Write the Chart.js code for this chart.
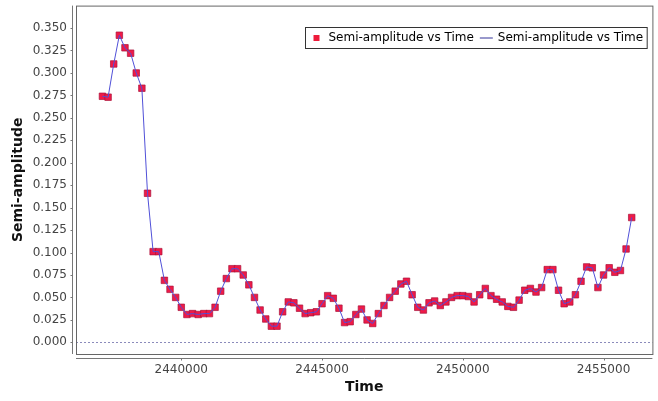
<!DOCTYPE html>
<html>
<head>
<meta charset="utf-8">
<script src="https://cdn.jsdelivr.net/npm/chart.js@4.4.1/dist/chart.umd.min.js"></script>
<style>
  body { margin: 0; background: #fff; }
  #c { display: block; }
</style>
</head>
<body>
<canvas id="c" width="658" height="401"></canvas>
<script>
// Julian date of each observation
var times = [
  2437200, 2437400, 2437600, 2437800, 2438000, 2438200, 2438400, 2438600, 2438800, 2439000,
  2439200, 2439400, 2439600, 2439800, 2440000, 2440200, 2440400, 2440600, 2440800, 2441000,
  2441200, 2441400, 2441600, 2441800, 2442000, 2442200, 2442400, 2442600, 2442800, 2443000,
  2443200, 2443400, 2443600, 2443800, 2444000, 2444200, 2444400, 2444600, 2444800, 2445000,
  2445200, 2445400, 2445600, 2445800, 2446000, 2446200, 2446400, 2446600, 2446800, 2447000,
  2447200, 2447400, 2447600, 2447800, 2448000, 2448200, 2448400, 2448600, 2448800, 2449000,
  2449200, 2449400, 2449600, 2449800, 2450000, 2450200, 2450400, 2450600, 2450800, 2451000,
  2451200, 2451400, 2451600, 2451800, 2452000, 2452200, 2452400, 2452600, 2452800, 2453000,
  2453200, 2453400, 2453600, 2453800, 2454000, 2454200, 2454400, 2454600, 2454800, 2455000,
  2455200, 2455400, 2455600, 2455800, 2456000
];
var semiAmplitude = [
  0.274, 0.273, 0.310, 0.342, 0.328, 0.322, 0.300, 0.283, 0.166, 0.101,
  0.101, 0.069, 0.059, 0.050, 0.039, 0.031, 0.032, 0.031, 0.032, 0.032,
  0.039, 0.057, 0.071, 0.082, 0.082, 0.075, 0.064, 0.050, 0.036, 0.026,
  0.018, 0.018, 0.034, 0.045, 0.044, 0.038, 0.032, 0.033, 0.034, 0.043,
  0.052, 0.049, 0.038, 0.022, 0.023, 0.031, 0.037, 0.025, 0.021, 0.032,
  0.041, 0.050, 0.057, 0.065, 0.068, 0.053, 0.039, 0.036, 0.044, 0.046,
  0.041, 0.045, 0.050, 0.052, 0.052, 0.051, 0.045, 0.053, 0.060, 0.052,
  0.048, 0.045, 0.040, 0.039, 0.047, 0.058, 0.060, 0.056, 0.061, 0.081,
  0.081, 0.058, 0.043, 0.045, 0.053, 0.068, 0.084, 0.083, 0.061, 0.075,
  0.083, 0.078, 0.080, 0.104, 0.139
];
var xTicks = [2440000, 2445000, 2450000, 2455000];
var yTicks = [0, 0.025, 0.05, 0.075, 0.1, 0.125, 0.15, 0.175, 0.2, 0.225, 0.25, 0.275, 0.3, 0.325, 0.35];
var seriesName = "Semi-amplitude vs Time";

var points = [];
for (var i = 0; i < times.length; i++) {
    points.push({ x: times[i], y: semiAmplitude[i] });
}

var tickFont = { family: "DejaVu Sans", size: 12 };
var titleFont = { family: "DejaVu Sans", size: 14, weight: "bold" };

// plot frame, offset axis lines, zero marker and the boxed legend
var framePlugin = {
    id: "frame",
    beforeDatasetsDraw: function (chart) {
        var ctx = chart.ctx, a = chart.chartArea;
        var xs = chart.scales.x, ys = chart.scales.y;
        ctx.save();
        // zero marker
        var y0 = Math.round(ys.getPixelForValue(0)) + 0.5;
        ctx.strokeStyle = "rgba(110,110,170,0.8)";
        ctx.lineWidth = 1;
        ctx.setLineDash([2, 2]);
        ctx.beginPath();
        ctx.moveTo(a.left, y0);
        ctx.lineTo(a.right, y0);
        ctx.stroke();
        ctx.setLineDash([]);
        // outline
        ctx.strokeStyle = "#666";
        ctx.strokeRect(a.left + 0.5, a.top + 0.5, a.right - a.left, a.bottom - a.top);
        // axis lines
        var axX = a.left - 3.5, axY = a.bottom + 4.5;
        ctx.strokeStyle = "#777";
        ctx.beginPath();
        ctx.moveTo(axX, a.top);
        ctx.lineTo(axX, a.bottom);
        ctx.moveTo(a.left, axY);
        ctx.lineTo(a.right, axY);
        yTicks.forEach(function (v) {
            var py = Math.round(ys.getPixelForValue(v)) + 0.5;
            ctx.moveTo(axX - 2, py);
            ctx.lineTo(axX, py);
        });
        xTicks.forEach(function (v) {
            var px = Math.round(xs.getPixelForValue(v)) + 0.5;
            ctx.moveTo(px, axY);
            ctx.lineTo(px, axY + 2);
        });
        ctx.stroke();
        ctx.restore();
    },
    afterDraw: function (chart) {
        var ctx = chart.ctx, a = chart.chartArea;
        ctx.save();
        ctx.font = "12px 'DejaVu Sans'";
        var w = ctx.measureText(seriesName).width;
        var left = a.left + 229.5, top = 27.5, h = 21;
        var total = 23 + w + 6 + 13 + 5 + w + 4;
        ctx.fillStyle = "#fff";
        ctx.fillRect(left, top, total, h);
        ctx.strokeStyle = "#333";
        ctx.lineWidth = 1;
        ctx.strokeRect(left, top, total, h);
        var cy = top + h / 2;
        ctx.fillStyle = "#ee1a3a";
        ctx.fillRect(left + 8, cy - 3, 6, 6);
        ctx.fillStyle = "#000";
        ctx.textBaseline = "middle";
        ctx.fillText(seriesName, left + 23, cy);
        var lx = left + 23 + w + 6;
        ctx.strokeStyle = "#333399";
        ctx.beginPath();
        ctx.moveTo(lx, cy);
        ctx.lineTo(lx + 13, cy);
        ctx.stroke();
        ctx.fillText(seriesName, lx + 18, cy);
        ctx.restore();
    }
};

var config = {
    type: "scatter",
    data: {
        datasets: [{
            label: seriesName,
            data: points,
            showLine: true,
            pointRadius: 0,
            borderColor: "#5050d8",
            borderWidth: 1,
            order: 0
        }, {
            label: seriesName,
            data: points,
            pointStyle: "rect",
            pointRadius: 4.6,
            backgroundColor: "#ef1a48",
            borderColor: "rgba(170,20,60,0.7)",
            borderWidth: 1,
            order: 1
        }]
    },
    options: {
        responsive: false,
        animation: false,
        devicePixelRatio: 1,
        layout: { padding: { top: 5, right: 0, left: 0, bottom: 0 } },
        plugins: {
            legend: { display: false },
            tooltip: { enabled: false }
        },
        scales: {
            x: {
                type: "linear",
                min: 2436260,
                max: 2456735,
                grid: { display: false, drawTicks: false },
                border: { display: false },
                afterBuildTicks: function (s) { s.ticks = xTicks.map(function (v) { return { value: v }; }); },
                afterFit: function (s) { s.height = 47; s.paddingLeft = 0; s.paddingRight = 0; },
                ticks: {
                    padding: 9,
                    color: "#444",
                    font: tickFont,
                    maxRotation: 0,
                    callback: function (v) { return String(v); }
                },
                title: { display: true, text: "Time", color: "#111", font: titleFont, padding: { top: 5, bottom: 5 } }
            },
            y: {
                min: -0.013,
                max: 0.375,
                grid: { display: false, drawTicks: false },
                border: { display: false },
                afterBuildTicks: function (s) { s.ticks = yTicks.map(function (v) { return { value: v }; }); },
                afterFit: function (s) { s.width = 76; s.paddingTop = 0; s.paddingBottom = 0; },
                ticks: {
                    padding: 9,
                    color: "#444",
                    font: tickFont,
                    callback: function (v) { return v.toFixed(3); }
                },
                title: { display: true, text: "Semi-amplitude", color: "#111", font: titleFont, padding: { top: 10, bottom: 4 } }
            }
        }
    },
    plugins: [framePlugin]
};

new Chart(document.getElementById("c").getContext("2d"), config);
</script>
</body>
</html>
